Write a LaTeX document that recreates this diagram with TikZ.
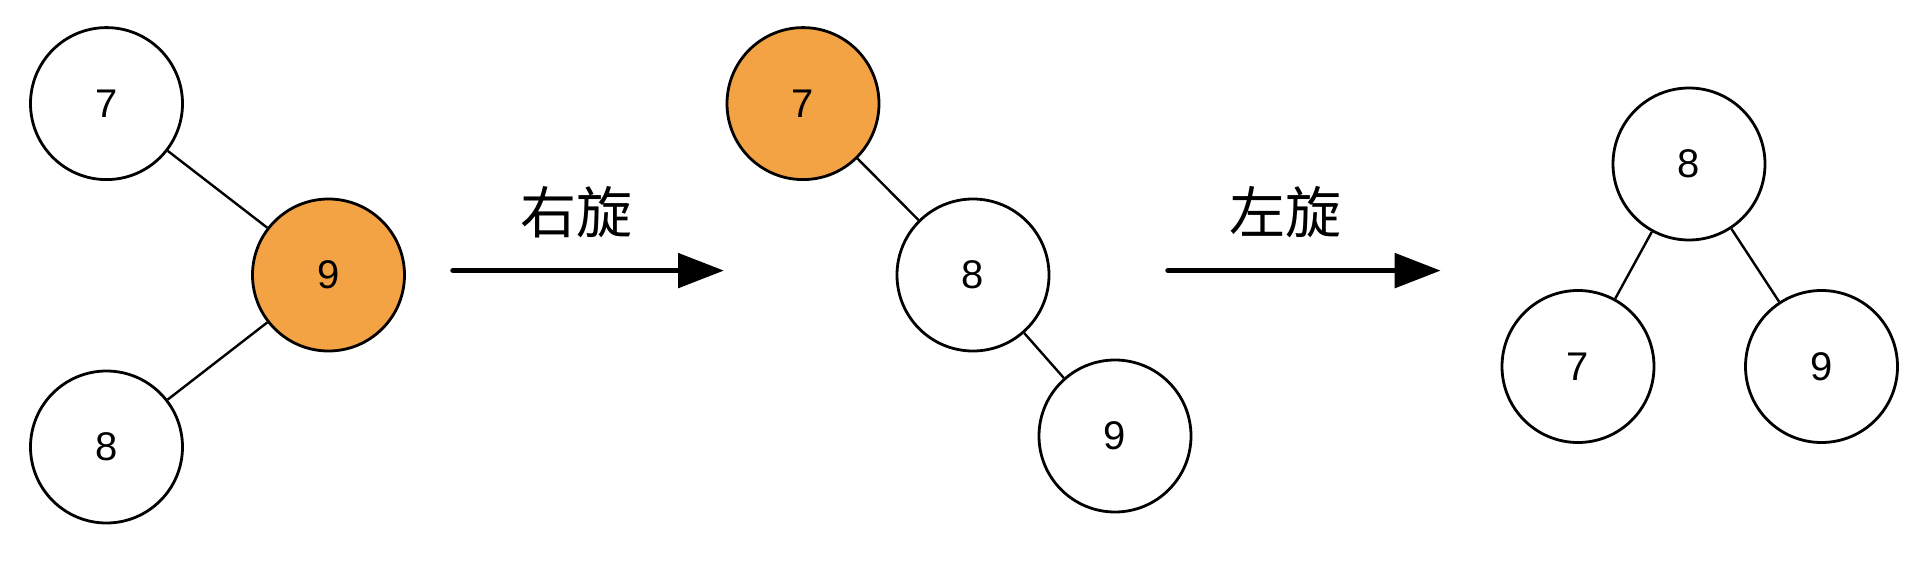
\documentclass[tikz,border=0pt]{standalone}
\usepackage{fontspec}
\setmainfont{Liberation Sans}
\newfontfamily\cjk{Noto Sans CJK SC}
\usetikzlibrary{arrows.meta}
\definecolor{hl}{HTML}{F3A244}
\begin{document}
\begin{tikzpicture}[x=1pt,y=-1pt,
  tnode/.style={circle,draw=black,line width=2.8pt,fill=white,minimum size=152pt,inner sep=0pt,font=\fontsize{40}{40}\selectfont},
  hot/.style={tnode,fill=hl},
  edge/.style={line width=2.4pt},
  rot/.style={line width=5.5pt,line cap=round,-{Triangle[length=46pt,width=34pt]}},
  lbl/.style={font=\cjk\fontsize{56}{56}\selectfont}]
\useasboundingbox (0,0) rectangle (1920,562);
% tree A
\node[tnode] (a7) at (106.5,103.6) {7};
\node[hot]   (a9) at (328.5,275) {9};
\node[tnode] (a8) at (106.5,447) {8};
\draw[edge] (a7) -- (a9);
\draw[edge] (a9) -- (a8);
% arrow 1
\coordinate (s1) at (453,270.6);
\coordinate (e1) at (724,270.6);
\draw[rot] (s1) -- (e1);
\node[lbl] (l1) at (576,212) {右旋};
% tree B
\node[hot]   (b7) at (803,103.6) {7};
\node[tnode] (b8) at (973,275) {8};
\node[tnode] (b9) at (1115,436) {9};
\draw[edge] (b7) -- (b8);
\draw[edge] (b8) -- (b9);
% arrow 2
\coordinate (s2) at (1168,270.6);
\coordinate (e2) at (1440.7,270.6);
\draw[rot] (s2) -- (e2);
\node[lbl] (l2) at (1285,212) {左旋};
% tree C
\node[tnode] (c8) at (1689,164) {8};
\node[tnode] (c7) at (1578,366.5) {7};
\node[tnode] (c9) at (1821.5,366.5) {9};
\draw[edge] (c8) -- (c7);
\draw[edge] (c8) -- (c9);
\end{tikzpicture}
\end{document}
